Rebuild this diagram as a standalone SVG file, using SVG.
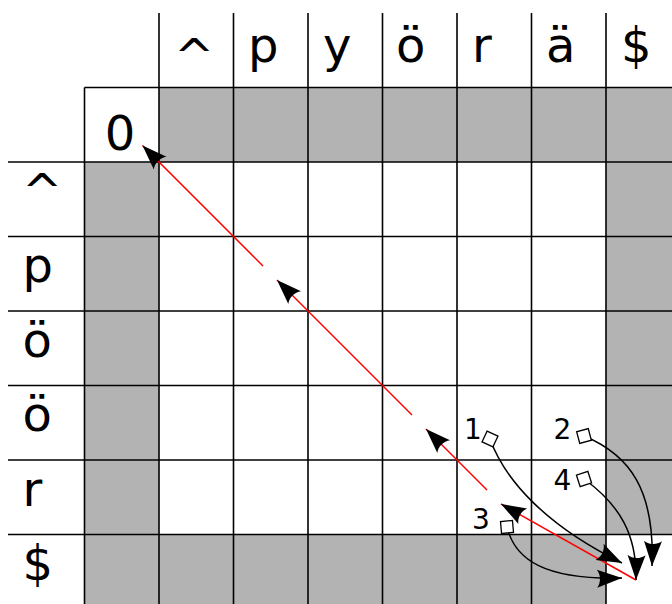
<svg xmlns="http://www.w3.org/2000/svg" width="672" height="604" viewBox="0 0 672 604">
<style>
.g{fill:#b3b3b3;stroke:none}
.ln{stroke:#000;stroke-width:1.6;fill:none}
.big{font-family:"DejaVu Sans",sans-serif;font-size:48px;fill:#000}
.sm{font-family:"DejaVu Sans",sans-serif;font-size:28px;fill:#000;text-anchor:middle}
.red{stroke:#f00;stroke-width:1.5;fill:none;marker-end:url(#ah)}
.crv{stroke:#000;stroke-width:1.5;fill:none;marker-end:url(#ah)}
.sq{fill:#fff;stroke:#000;stroke-width:1.3}
</style>
<defs>
<marker id="ah" markerUnits="userSpaceOnUse" markerWidth="30" markerHeight="22" viewBox="-28 -11 30 22" refX="0" refY="0" orient="auto" overflow="visible">
<path d="M0,0 L-25,-9 C-21,-3.7 -21,3.7 -25,9 Z" fill="#000"/>
</marker>
</defs>
<rect width="672" height="604" fill="#fff"/>
<g id="grid">
<rect class="g" x="159" y="87.5" width="513" height="74.5"/>
<rect class="g" x="84.5" y="162" width="74.5" height="442"/>
<rect class="g" x="606" y="162" width="66" height="372.5"/>
<rect class="g" x="159" y="534.5" width="447" height="69.5"/>
<g class="ln">
<line x1="159" y1="13" x2="159" y2="604"/>
<line x1="233.5" y1="13" x2="233.5" y2="604"/>
<line x1="308" y1="13" x2="308" y2="604"/>
<line x1="382.5" y1="13" x2="382.5" y2="604"/>
<line x1="457" y1="13" x2="457" y2="604"/>
<line x1="531.5" y1="13" x2="531.5" y2="604"/>
<line x1="606" y1="13" x2="606" y2="604"/>
<line x1="84.5" y1="87.5" x2="84.5" y2="604"/>
<line x1="84.5" y1="87.5" x2="672" y2="87.5"/>
<line x1="8" y1="162" x2="672" y2="162"/>
<line x1="8" y1="236.5" x2="672" y2="236.5"/>
<line x1="8" y1="311" x2="672" y2="311"/>
<line x1="8" y1="385.5" x2="672" y2="385.5"/>
<line x1="8" y1="460" x2="672" y2="460"/>
<line x1="8" y1="534.5" x2="672" y2="534.5"/>
</g>
</g>
<g id="col-labels" class="big">
<text x="174" y="73">^</text>
<text x="248" y="62">p</text>
<text x="323" y="62">y</text>
<text x="396" y="62">ö</text>
<text x="472" y="62">r</text>
<text x="546" y="62">ä</text>
<text x="621" y="62">$</text>
</g>
<g id="row-labels" class="big">
<text x="120" y="150" text-anchor="middle">0</text>
<text x="22" y="208">^</text>
<text x="22.5" y="282">p</text>
<text x="22.5" y="356.5">ö</text>
<text x="22.5" y="431">ö</text>
<text x="22.5" y="505.5">r</text>
<text x="22.5" y="580">$</text>
</g>
<g id="connectors">
<path class="red" d="M263,266 L142.5,145.5"/>
<path class="red" d="M412,415 L277,280"/>
<path class="red" d="M487,490 L426,429"/>
<path class="red" d="M636,580 L501,504"/>
<path class="crv" d="M490,439 C505,480 545,525 622,563"/>
<path class="crv" d="M584,436 C630,455 655,490 652,566"/>
<path class="crv" d="M584,479 C620,505 637,535 636,580"/>
<path class="crv" d="M507,527 C515,560 545,580 622,578"/>
</g>
<g id="n1"><rect class="sq" x="-6" y="-6" width="12" height="12" transform="translate(490,439) rotate(25)"/><text class="sm" x="473" y="439">1</text></g>
<g id="n2"><rect class="sq" x="-6" y="-6" width="12" height="12" transform="translate(584,436) rotate(-15)"/><text class="sm" x="562.5" y="439">2</text></g>
<g id="n3"><rect class="sq" x="-6" y="-6" width="12" height="12" transform="translate(507,527) rotate(-5)"/><text class="sm" x="481" y="529">3</text></g>
<g id="n4"><rect class="sq" x="-6" y="-6" width="12" height="12" transform="translate(584,479) rotate(-18)"/><text class="sm" x="562.5" y="490">4</text></g>
</svg>
